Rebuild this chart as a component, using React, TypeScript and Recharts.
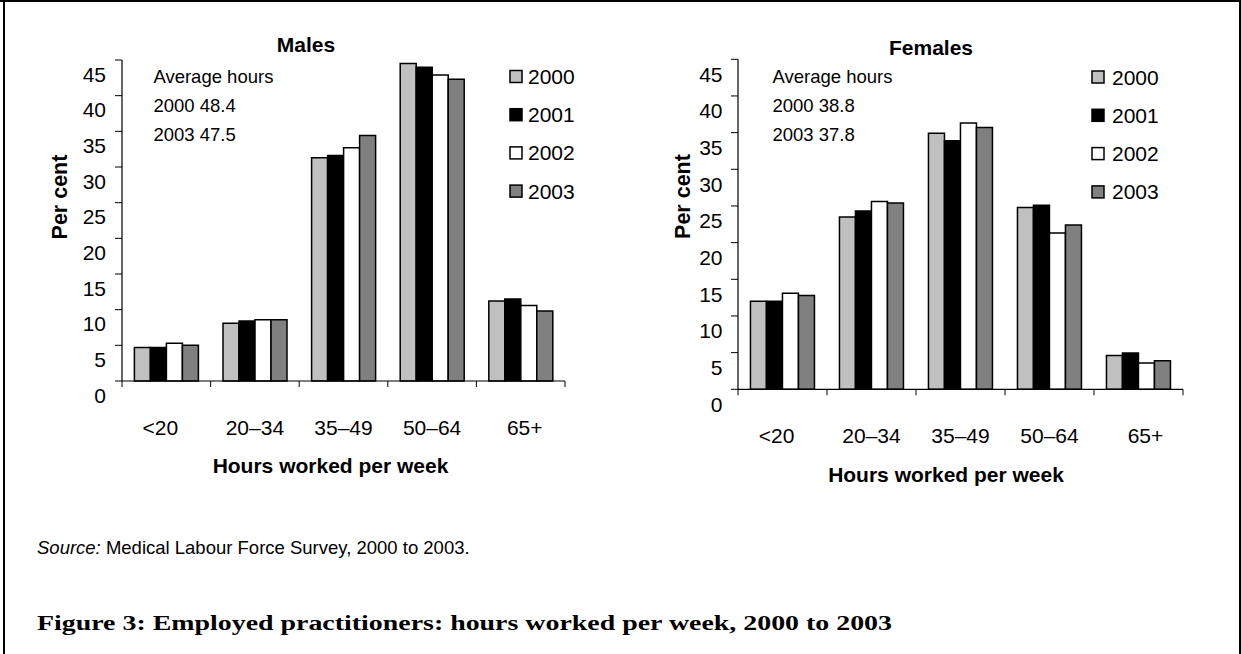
import React from 'react';
import { BarChart, Bar, XAxis, YAxis } from 'recharts';

const categories = ['<20', '20–34', '35–49', '50–64', '65+'];
const years = ['2000', '2001', '2002', '2003'];
const yTicks = [0, 5, 10, 15, 20, 25, 30, 35, 40, 45];

const males2000 = [4.7, 8.1, 31.3, 44.5, 11.2];
const males2001 = [4.7, 8.4, 31.6, 44.0, 11.5];
const males2002 = [5.3, 8.6, 32.7, 42.9, 10.6];
const males2003 = [5.0, 8.6, 34.4, 42.3, 9.8];

const females2000 = [12.0, 23.5, 34.9, 24.8, 4.6];
const females2001 = [12.0, 24.3, 33.9, 25.1, 4.95];
const females2002 = [13.1, 25.6, 36.3, 21.3, 3.6];
const females2003 = [12.8, 25.4, 35.7, 22.4, 3.9];

const malesAvg = ['Average hours', '2000 48.4', '2003 47.5'];
const femalesAvg = ['Average hours', '2000 38.8', '2003 37.8'];

const colors = ['#c0c0c0', '#000000', '#ffffff', '#808080'];

const build = (a: number[], b: number[], c: number[], d: number[]) =>
  categories.map((cat, i) => ({ category: cat, y2000: a[i], y2001: b[i], y2002: c[i], y2003: d[i] }));

const malesData = build(males2000, males2001, males2002, males2003);
const femalesData = build(females2000, females2001, females2002, females2003);

const FONT = '"Liberation Sans", Arial, Helvetica, sans-serif';

type PanelProps = {
  data: any[];
  left: number;
  width: number;
  height: number;
  margin: { top: number; right: number; bottom: number; left: number };
  yLabelDx: number;
  yLabelDy: number;
  xLabelDy: number;
  xLabelDx: number[];
};

const Panel = ({ data, left, width, height, margin, yLabelDx, yLabelDy, xLabelDy, xLabelDx }: PanelProps) => {
  const plotW = width - margin.left - margin.right - 60;
  const bw = plotW / categories.length;
  const YTick = (props: any) => {
    const { x, y, payload } = props;
    return (
      <text x={x + yLabelDx} y={y + yLabelDy} textAnchor="end" fontSize={21} fontFamily={FONT} fill="#000">
        {payload.value}
      </text>
    );
  };
  const XTick = (props: any) => {
    const { x, y, payload, index } = props;
    const last = index === categories.length - 1;
    return (
      <g>
        <line x1={x - bw / 2} y1={y} x2={x - bw / 2} y2={y + 6} stroke="#000" strokeWidth={1} />
        {last && <line x1={x + bw / 2} y1={y} x2={x + bw / 2} y2={y + 6} stroke="#000" strokeWidth={1} />}
        <text x={x + (xLabelDx[index] || 0)} y={y + xLabelDy} textAnchor="middle" fontSize={21} fontFamily={FONT} fill="#000">
          {payload.value}
        </text>
      </g>
    );
  };
  return (
    <div style={{ position: 'absolute', left, top: 0 }}>
      <BarChart width={width} height={height} data={data} margin={margin} barGap={0} barCategoryGap="14%">
        <XAxis
          dataKey="category"
          interval={0}
          tickLine={false}
          tickSize={0}
          tickMargin={0}
          height={30}
          axisLine={{ stroke: '#000', strokeWidth: 1.2 }}
          tick={<XTick />}
        />
        <YAxis
          domain={[0, 45]}
          ticks={yTicks}
          interval={0}
          width={60}
          tickSize={7}
          axisLine={{ stroke: '#000', strokeWidth: 1.2 }}
          tickLine={{ stroke: '#000', strokeWidth: 1 }}
          tick={<YTick />}
        />
        {years.map((yr, i) => (
          <Bar
            key={yr}
            dataKey={'y' + yr}
            fill={colors[i]}
            stroke="#000"
            strokeWidth={1.5}
            isAnimationActive={false}
          />
        ))}
      </BarChart>
    </div>
  );
};

const LegendBlock = ({ x, y, textX, step }: { x: number; y: number; textX: number; step: number }) => (
  <g>
    {years.map((yr, i) => (
      <g key={yr}>
        <rect x={x} y={y + i * step - 6} width={12} height={12} fill={colors[i]} stroke="#000" strokeWidth={1.5} />
        <text x={textX} y={y + i * step + 7.5} fontSize={21} fontFamily={FONT} fill="#000">
          {yr}
        </text>
      </g>
    ))}
  </g>
);

export default function App() {
  return (
    <div style={{ position: 'absolute', left: 0, top: 0, width: 1241, height: 654, background: '#fff', overflow: 'hidden' }}>
      <Panel
        data={malesData}
        left={0}
        width={620}
        height={500}
        margin={{ top: 60, right: 55, bottom: 89, left: 62 }}
        yLabelDx={-7}
        yLabelDy={21.7}
        xLabelDy={54}
        xLabelDx={[-6, 0, 0, 0, 4]}
      />
      <Panel
        data={femalesData}
        left={620}
        width={620}
        height={500}
        margin={{ top: 59.3, right: 57, bottom: 80.7, left: 58 }}
        yLabelDx={-6.5}
        yLabelDy={22.4}
        xLabelDy={54}
        xLabelDx={[-6, 0, 0, 0, 7]}
      />
      <svg
        width={1241}
        height={654}
        style={{ position: 'absolute', left: 0, top: 0, pointerEvents: 'none' }}
      >
        <rect x={0} y={0} width={1241} height={2} fill="#000" />
        <rect x={3} y={0} width={2} height={654} fill="#000" />
        <rect x={1239} y={0} width={2} height={654} fill="#000" />

        <text x={306} y={51.7} textAnchor="middle" fontSize={21} fontWeight="bold" fontFamily={FONT}>Males</text>
        <text x={931} y={55} textAnchor="middle" fontSize={21} fontWeight="bold" fontFamily={FONT}>Females</text>

        {malesAvg.map((t, i) => (
          <text key={'m' + i} x={153.4} y={82.5 + i * 29} fontSize={18.5} fontFamily={FONT}>{t}</text>
        ))}
        {femalesAvg.map((t, i) => (
          <text key={'f' + i} x={772.5} y={82.5 + i * 29} fontSize={18.5} fontFamily={FONT}>{t}</text>
        ))}

        <LegendBlock x={510} y={76.5} textX={528} step={38.2} />
        <LegendBlock x={1092} y={77} textX={1112} step={38.3} />

        <text x={67} y={197} transform="rotate(-90 67 197)" textAnchor="middle" fontSize={21.5} fontWeight="bold" fontFamily={FONT}>Per cent</text>
        <text x={690} y={196.5} transform="rotate(-90 690 196.5)" textAnchor="middle" fontSize={21.5} fontWeight="bold" fontFamily={FONT}>Per cent</text>

        <text x={330.5} y={472.5} textAnchor="middle" fontSize={21} fontWeight="bold" fontFamily={FONT}>Hours worked per week</text>
        <text x={946} y={482} textAnchor="middle" fontSize={21} fontWeight="bold" fontFamily={FONT}>Hours worked per week</text>

        <text x={37} y={554} fontSize={18.5} fontFamily={FONT}>
          <tspan fontStyle="italic">Source:</tspan> Medical Labour Force Survey, 2000 to 2003.
        </text>

        <text x={37} y={630} fontSize={20.5} fontWeight="bold" fontFamily={'"Liberation Serif", "DejaVu Serif", serif'} textLength={855} lengthAdjust="spacingAndGlyphs">
          Figure 3: Employed practitioners: hours worked per week, 2000 to 2003
        </text>
      </svg>
    </div>
  );
}
